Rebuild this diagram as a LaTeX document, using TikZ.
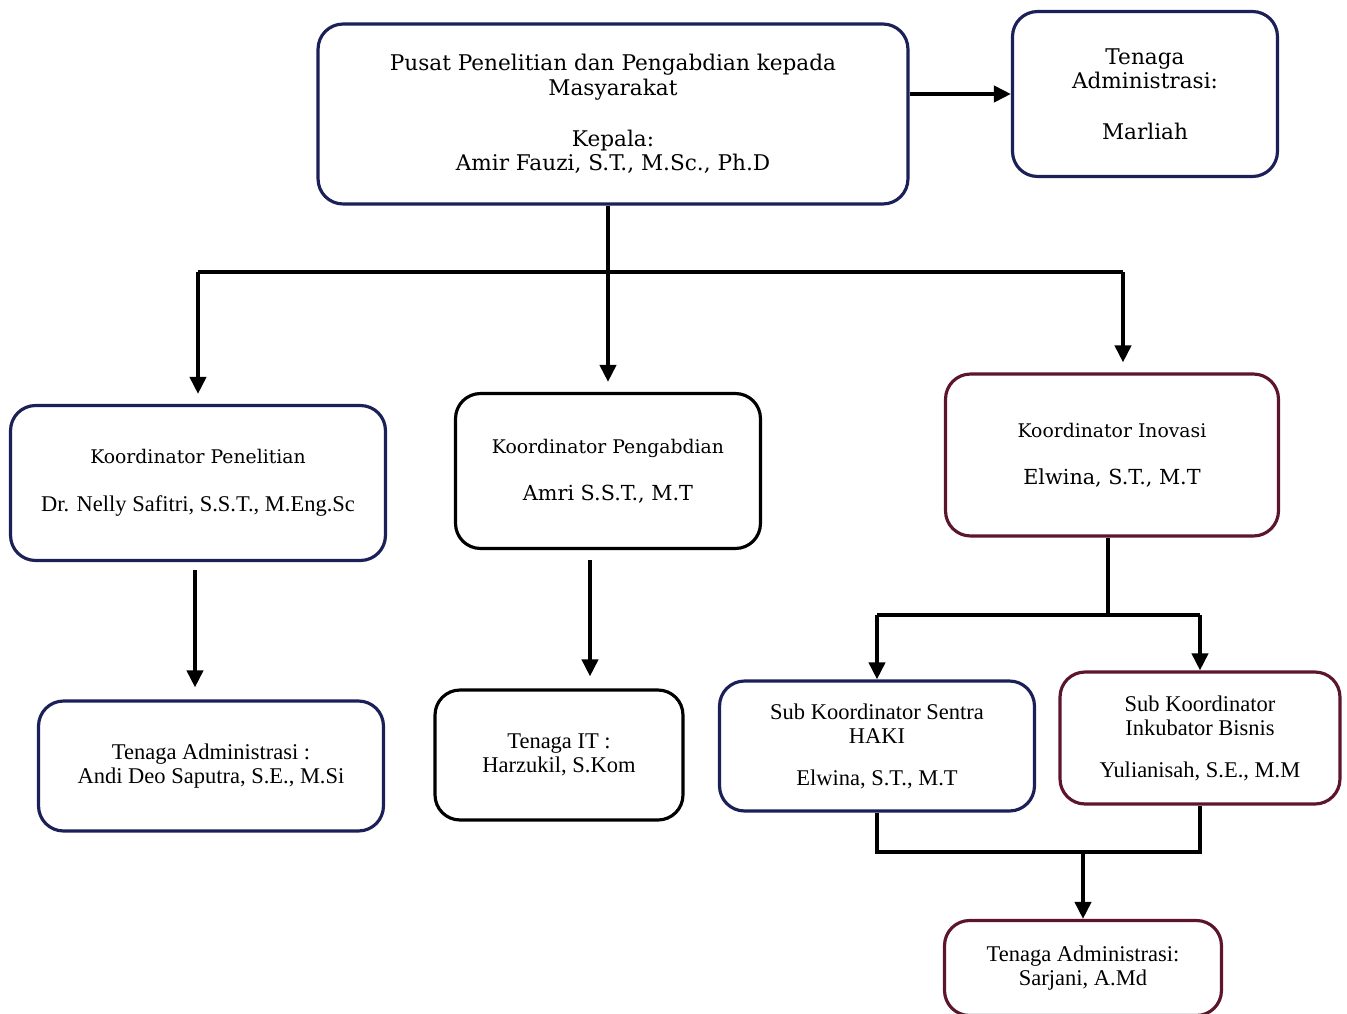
\documentclass[tikz,border=0pt]{standalone}
\usepackage{fontspec}
\setmainfont{Liberation Serif}
\newfontfamily\bookfont{DejaVu Serif}
\usetikzlibrary{arrows.meta}
\definecolor{navyline}{RGB}{28,32,88}
\definecolor{wineline}{RGB}{92,22,44}
\newcommand\bigbook{\bookfont\fontsize{12.3}{14}\selectfont}
\newcommand\smallbook{\bookfont\fontsize{10.7}{13}\selectfont}
\newcommand\namebook{\bookfont\fontsize{11.8}{13.6}\selectfont}
\newcommand\timesbox{\fontsize{12.8}{14}\selectfont}

\tikzset{
  unitbox/.style={draw=navyline, line width=1.8pt, rounded corners=0.5cm, align=center, fill=white, inner sep=2pt},
  blackbox/.style={unitbox, draw=black},
  winebox/.style={unitbox, draw=wineline},
  link/.style={line width=2.2pt},
  linkarrow/.style={link, -{Triangle[length=0.34cm,width=0.32cm]}},
}

\begin{document}
\begin{tikzpicture}[x=0.02cm, y=-0.02cm]
\useasboundingbox (0,0) rectangle (1347,1014);

\node[unitbox, minimum width=11.8cm, minimum height=3.6cm, font=\bigbook] (pusat) at (613,114) {Pusat Penelitian dan Pengabdian kepada\\ Masyarakat\\[1.2em] Kepala:\\ Amir Fauzi, S.T., M.Sc., Ph.D};
\node[unitbox, minimum width=5.3cm, minimum height=3.3cm, font=\bigbook] (marliah) at (1145,94) {Tenaga\\ Administrasi:\\[1.2em] Marliah};

\node[unitbox, minimum width=7.5cm, minimum height=3.1cm] (penelitian) at (198,483) {{\smallbook Koordinator Penelitian}\\[1.5em] {\timesbox Dr. Nelly Safitri, S.S.T., M.Eng.Sc}};
\node[blackbox, minimum width=6.1cm, minimum height=3.1cm] (pengabdian) at (608,471) {{\smallbook Koordinator Pengabdian}\\[1.5em] {\namebook Amri S.S.T., M.T}};
\node[winebox, minimum width=6.66cm, minimum height=3.24cm] (inovasi) at (1112,455) {{\smallbook Koordinator Inovasi}\\[1.5em] {\namebook Elwina, S.T., M.T}};

\node[unitbox, minimum width=6.9cm, minimum height=2.6cm, font=\timesbox] (andi) at (211,766) {Tenaga Administrasi :\\ Andi Deo Saputra, S.E., M.Si};
\node[blackbox, minimum width=4.96cm, minimum height=2.6cm, font=\timesbox] (it) at (559,755) {Tenaga IT :\\ Harzukil, S.Kom};
\node[unitbox, minimum width=6.3cm, minimum height=2.6cm, font=\timesbox] (haki) at (877,746) {Sub Koordinator Sentra\\ HAKI\\[0.75em] Elwina, S.T., M.T};
\node[winebox, minimum width=5.6cm, minimum height=2.64cm, font=\timesbox] (inkubator) at (1200,738) {Sub Koordinator\\ Inkubator Bisnis\\[0.75em] Yulianisah, S.E., M.M};
\node[winebox, minimum width=5.54cm, minimum height=1.9cm, font=\timesbox] (sarjani) at (1083,968) {Tenaga Administrasi:\\ Sarjani, A.Md};

\coordinate (bus) at (608,272);
\coordinate (subbus) at (1108,615);
\coordinate (joinbus) at (1090,852);

\draw[linkarrow] (pusat.east |- marliah.west) -- (marliah.west);
\draw[link] (bus |- pusat.south) -- (bus);
\draw[link] (penelitian.north |- bus) -- ([xshift=0.22cm]inovasi.north |- bus);
\draw[linkarrow, shorten >=0.2cm] (penelitian.north |- bus) -- (penelitian.north);
\draw[linkarrow, shorten >=0.2cm] (bus) -- (pengabdian.north);
\draw[linkarrow, shorten >=0.2cm] ([xshift=0.22cm]inovasi.north |- bus) -- ([xshift=0.22cm]inovasi.north);

\draw[linkarrow, shorten <=0.16cm, shorten >=0.24cm] ([xshift=-0.06cm]penelitian.south) -- ([xshift=-0.06cm]penelitian.south |- andi.north);
\draw[linkarrow, shorten <=0.2cm, shorten >=0.24cm] ([xshift=-0.36cm]pengabdian.south) -- ([xshift=-0.36cm]pengabdian.south |- it.north);

\draw[link] (subbus |- inovasi.south) -- (subbus);
\draw[link] (haki.north |- subbus) -- (inkubator.north |- subbus);
\draw[linkarrow] (haki.north |- subbus) -- (haki.north);
\draw[linkarrow] (inkubator.north |- subbus) -- (inkubator.north);

\draw[link] (haki.south) -- (haki.south |- joinbus) -- (inkubator.south |- joinbus) -- (inkubator.south);
\draw[linkarrow] (sarjani.north |- joinbus) -- (sarjani.north);

\end{tikzpicture}
\end{document}
